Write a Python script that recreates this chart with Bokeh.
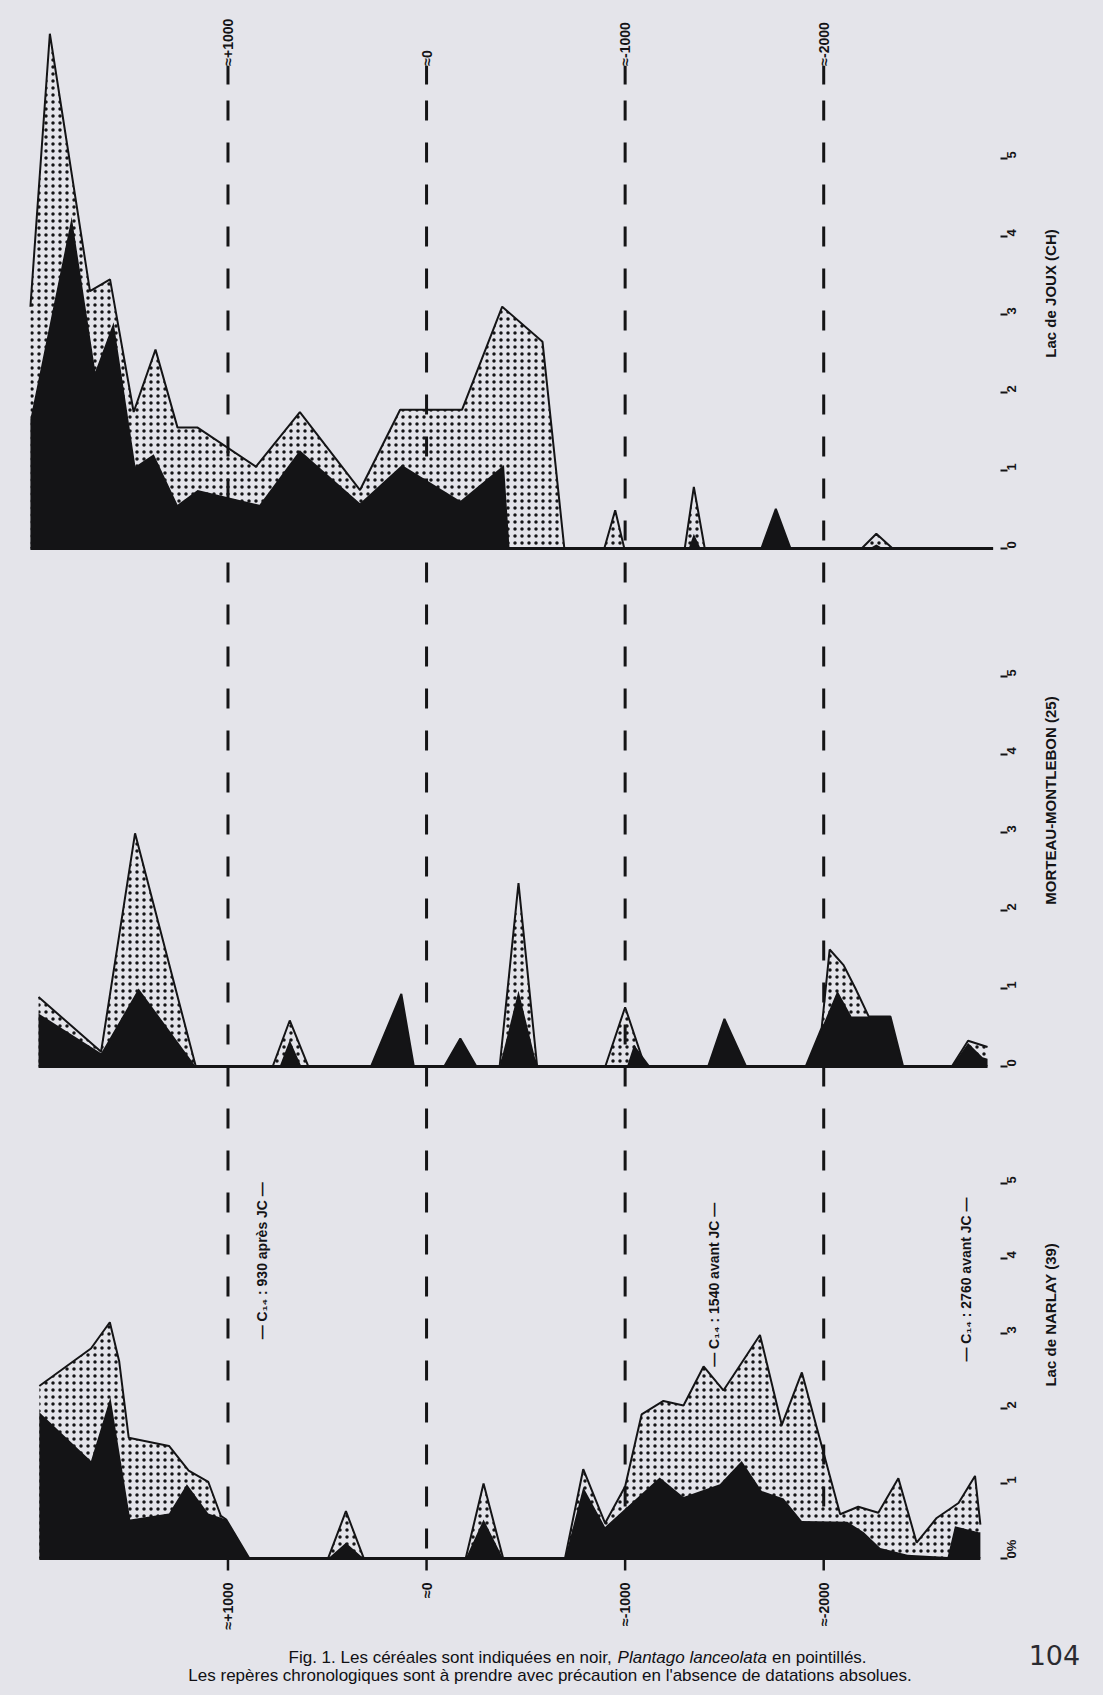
import math
from bokeh.plotting import figure
from bokeh.models import Range1d, LinearAxis, FixedTicker, Label
from bokeh.embed import file_html
from bokeh.resources import INLINE
from bokeh.core.properties import value

# ---------------- data ----------------
marker_years = [1000, 0, -1000, -2000]
marker_labels = ["≈+1000", "≈0", "≈-1000", "≈-2000"]
value_ticks = [0, 1, 2, 3, 4, 5]

# Lac de Joux (CH): outer curve = céréales + Plantago (pointillés), black = céréales
joux_total_years = [1995, 1897, 1695, 1594, 1475, 1365, 1254, 1153, 859, 638, 335, 133, -179, -381,
                    -584, -694, -895, -950, -996, -1300, -1346, -1401, -1686, -1759, -1833,
                    -2191, -2265, -2347, -2853]
joux_total = [3.1, 6.6, 3.3, 3.45, 1.75, 2.55, 1.55, 1.55, 1.05, 1.75, 0.75, 1.78, 1.78, 3.1,
              2.65, 0, 0, 0.49, 0, 0, 0.79, 0, 0, 0.51, 0,
              0, 0.19, 0, 0]
joux_cereal_years = [1995, 1787, 1668, 1576, 1466, 1374, 1254, 1153, 841, 638, 335, 124, -170, -390,
                     -418, -1320, -1346, -1380, -1686, -1759, -1833, -2230, -2265, -2300, -2853]
joux_cereal = [1.66, 4.25, 2.27, 2.9, 1.05, 1.21, 0.56, 0.75, 0.56, 1.26, 0.58, 1.07, 0.61, 1.07,
               0, 0, 0.19, 0, 0, 0.51, 0, 0, 0.05, 0, 0]

# Morteau-Montlebon (25)
mort_total_years = [1954, 1639, 1468, 1162, 775, 689, 595, 280, 127, 64, -89, -170, -251, -368,
                    -463, -557, -900, -1000, -1100, -1418, -1500, -1609, -1909, -1990, -2030,
                    -2100, -2160, -2227, -2336, -2400, -2645, -2727, -2825]
mort_total = [0.89, 0.19, 2.99, 0, 0, 0.59, 0, 0, 0.93, 0, 0, 0.36, 0, 0,
              2.35, 0, 0, 0.76, 0, 0, 0.61, 0, 0, 0.5, 1.5,
              1.3, 1.0, 0.64, 0.64, 0, 0, 0.33, 0.25]
mort_cereal_years = [1954, 1639, 1450, 1162, 740, 689, 630, 280, 127, 64, -89, -170, -251, -368,
                     -463, -557, -1009, -1045, -1127, -1418, -1500, -1609, -1909, -2069, -2140,
                     -2336, -2400, -2645, -2727, -2800, -2825]
mort_cereal = [0.68, 0.17, 1.0, 0, 0, 0.34, 0, 0, 0.93, 0, 0, 0.36, 0, 0,
               0.97, 0, 0, 0.28, 0, 0, 0.61, 0, 0, 0.97, 0.64,
               0.64, 0, 0, 0.3, 0.12, 0.1]

# Lac de Narlay (39)
narl_total_years = [1950, 1690, 1595, 1548, 1500, 1297, 1198, 1099, 1036, 1009, 892, 496, 406, 316,
                    -197, -287, -386, -697, -789, -899, -1000, -1083, -1193, -1294, -1395, -1495,
                    -1679, -1789, -1890, -2083, -2174, -2275, -2376, -2468, -2569, -2679, -2762, -2789]
narl_total = [2.3, 2.8, 3.15, 2.63, 1.61, 1.5, 1.17, 1.02, 0.57, 0.52, 0, 0, 0.63, 0,
              0, 1.0, 0, 0, 1.19, 0.47, 0.96, 1.92, 2.10, 2.04, 2.56, 2.24,
              2.98, 1.78, 2.48, 0.59, 0.69, 0.61, 1.07, 0.21, 0.54, 0.74, 1.10, 0.45]
narl_cereal_years = [1950, 1690, 1592, 1492, 1297, 1207, 1099, 1009, 892, 496, 406, 316, -197, -287,
                     -386, -697, -789, -899, -1174, -1294, -1477, -1587, -1688, -1798, -1890,
                     -2119, -2202, -2285, -2422, -2624, -2661, -2780, -2789]
narl_cereal = [1.95, 1.3, 2.15, 0.52, 0.6, 0.99, 0.6, 0.52, 0, 0, 0.21, 0, 0, 0.52,
               0, 0, 0.95, 0.42, 1.08, 0.82, 0.99, 1.30, 0.90, 0.80, 0.50,
               0.49, 0.35, 0.14, 0.05, 0.02, 0.43, 0.35, 0.35]

c14_labels = ["— C₁₄ : 930 après JC —", "— C₁₄ : 1540 avant JC —", "— C₁₄ : 2760 avant JC —"]
titles = ["Lac de JOUX (CH)", "MORTEAU-MONTLEBON (25)", "Lac de NARLAY (39)"]

# ---------------- style ----------------
BG = "#e4e4ea"
INK = "#141416"
FONT = "Liberation Sans"
AXIS_X = -2890      # where the value axes stand
TITLE_X = -3142

p = figure(width=1103, height=1695, x_range=Range1d(2065, -3409), y_range=Range1d(-14.705, 7.026),
           extra_y_ranges={"mort": Range1d(-8.064, 13.667), "narl": Range1d(-1.827, 20.773)},
           output_backend="svg", toolbar_location=None, x_axis_location=None, y_axis_location=None,
           min_border=0, min_border_left=16, min_border_right=0,
           background_fill_color=BG, border_fill_color=BG, outline_line_color=None)
p.grid.visible = False

# chronological markers (dashed verticals through the three diagrams)
p.segment(x0=marker_years, y0=19.44, x1=marker_years, y1=0, y_range_name="narl",
          line_color=INK, line_width=3, line_dash="20 22")
p.segment(x0=marker_years, y0=6.19, x1=marker_years, y1=5.95, line_color=INK, line_width=3)
p.text(x=marker_years, y=6.19, text=marker_labels, angle=math.pi / 2, text_align="left",
       text_baseline="middle", text_font=value(FONT), text_font_style="bold",
       text_font_size="14px", text_color=INK)
p.segment(x0=marker_years, y0=0, x1=marker_years, y1=-0.16, y_range_name="narl",
          line_color=INK, line_width=2.5)
p.text(x=marker_years, y=-0.32, text=marker_labels, angle=math.pi / 2, text_align="right",
       text_baseline="middle", text_font=value(FONT), text_font_style="bold",
       text_font_size="14px", text_color=INK, y_range_name="narl")

panels = [
    ("default", joux_total_years, joux_total, joux_cereal_years, joux_cereal, titles[0], 3.27, None),
    ("mort", mort_total_years, mort_total, mort_cereal_years, mort_cereal, titles[1], 3.41, None),
    ("narl", narl_total_years, narl_total, narl_cereal_years, narl_cereal, titles[2], 3.25, {0: "0%"}),
]

for rn, ty, tv, cy, cv, ttl, ty_title, overrides in panels:
    p.varea(x=ty, y1=0, y2=tv, fill_color=None, hatch_pattern="dot", hatch_color=INK,
            hatch_scale=7, hatch_weight=1.6, y_range_name=rn)
    p.varea(x=cy, y1=0, y2=cv, fill_color=INK, y_range_name=rn)
    p.line(x=ty, y=tv, line_color=INK, line_width=2, y_range_name=rn)
    p.line(x=[ty[0], ty[-1]], y=[0, 0], line_color=INK, line_width=3, y_range_name=rn)
    ax = LinearAxis(y_range_name=rn, fixed_location=AXIS_X, ticker=FixedTicker(ticks=value_ticks),
                    axis_line_color=None, major_tick_in=0, major_tick_out=7,
                    major_tick_line_width=2, major_tick_line_color=INK, minor_tick_line_color=None,
                    major_label_orientation=math.pi / 2, major_label_standoff=4,
                    major_label_text_font=FONT, major_label_text_font_size="13px",
                    major_label_text_font_style="bold", major_label_text_color=INK)
    if overrides:
        ax.major_label_overrides = overrides
    p.add_layout(ax, "right")
    p.add_layout(Label(x=TITLE_X, y=ty_title, y_range_name=rn, text=ttl, angle=math.pi / 2,
                       text_align="center", text_baseline="middle", text_font=FONT,
                       text_font_size="15px", text_font_style="bold", text_color=INK))

for (cx, cyv), lab in zip([(831, 3.97), (-1450, 3.65), (-2719, 3.72)], c14_labels):
    p.add_layout(Label(x=cx, y=cyv, y_range_name="narl", text=lab, angle=math.pi / 2,
                       text_align="center", text_baseline="middle", text_font=FONT,
                       text_font_size="14px", text_font_style="bold", text_color=INK))

cap_kw = dict(y_range_name="narl", text_baseline="middle", text_font=FONT,
              text_font_size="17px", text_color="#101014")
p.add_layout(Label(x=695, y=-1.32, text="Fig. 1. Les céréales sont indiquées en noir,",
                   text_align="left", **cap_kw))
p.add_layout(Label(x=-962, y=-1.32, text="Plantago lanceolata", text_align="left",
                   text_font_style="italic", **cap_kw))
p.add_layout(Label(x=-1740, y=-1.32, text="en pointillés.", text_align="left", **cap_kw))
p.add_layout(Label(x=-622, y=-1.56,
                   text="Les repères chronologiques sont à prendre avec précaution en l'absence de datations absolues.",
                   text_align="center", **cap_kw))
p.add_layout(Label(x=-3162, y=-1.29, y_range_name="narl", text="104", text_align="center",
                   text_baseline="middle", text_font="DejaVu Sans", text_font_size="27px",
                   text_color="#2a2a30"))

html = file_html(p, INLINE, title="Fig. 1")
html = html.replace("</head>",
                    "<style>html, body { background-color: #e4e4ea; margin: 0; padding: 0; }</style></head>", 1)
open("out.html", "w").write(html)
